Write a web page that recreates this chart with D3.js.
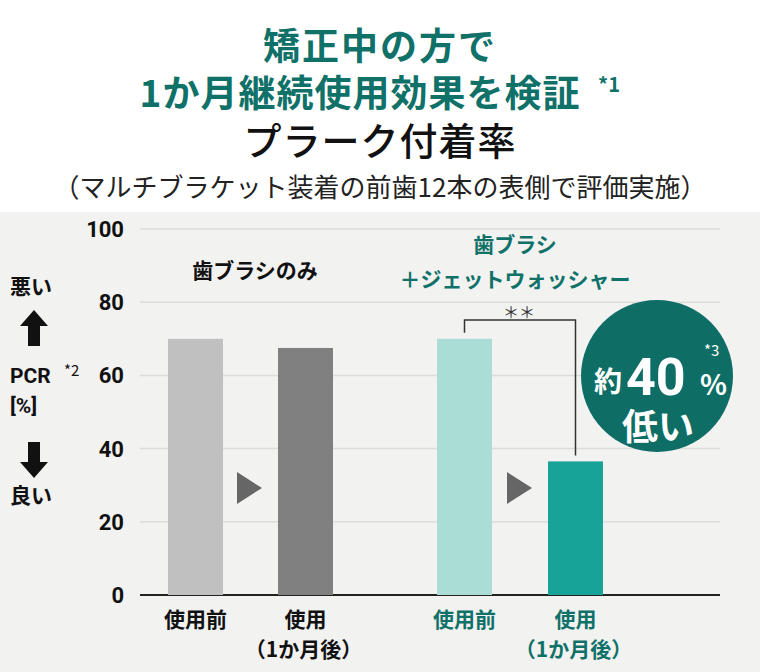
<!DOCTYPE html><html><head><meta charset="utf-8">
<script src="https://cdn.jsdelivr.net/npm/d3@7"></script>
<style>body{margin:0}svg{font-family:"Noto Sans CJK JP","Noto Sans",sans-serif}</style></head><body>
<svg id="c" width="760" height="672"></svg>
<script>
const categories=["使用前","使用\n（1か月後）","使用前","使用\n（1か月後）"];
const values=[70,67.5,70,36.5];
const colors=["#c0c0c0","#808080","#a9ddd6","#17a398"];
const ticks=[0,20,40,60,80,100];
const svg=d3.select("#c");
svg.append("rect").attr("x",0).attr("y",212).attr("width",760).attr("height",460).attr("fill","#f2f2f1");
const G="#0f7168";
const t=[[60,"矯正中の方で",G,37,700,2],[107,"1か月継続使用効果を検証",G,37,700,1],[155,"プラーク付着率","#111",38,500,1],[197,"（マルチブラケット装着の前歯12本の表側で評価実施）","#222",26,400,0]];
t.forEach(d=>svg.append("text").attr("x",d[1].startsWith("1")?360:380).attr("y",d[0]).attr("text-anchor","middle").attr("fill",d[2]).attr("font-size",d[3]).attr("font-weight",d[4]).attr("letter-spacing",d[5]).text(d[1]));
svg.append("text").attr("x",598).attr("y",92).attr("fill",G).attr("font-size",20).attr("font-weight",700).text("*1");
const y=d3.scaleLinear().domain([0,100]).range([595,229]);
const xs=[168,278,437,548],bw=55;
ticks.forEach(v=>{if(v>0)svg.append("line").attr("x1",140).attr("x2",720).attr("y1",y(v)).attr("y2",y(v)).attr("stroke","#dcdcdc").attr("stroke-width",1.5);
svg.append("text").attr("x",124).attr("y",y(v)+8).attr("text-anchor","end").attr("font-size",22).attr("font-weight",700).attr("font-family","Roboto,sans-serif").attr("fill","#111").text(v);});
svg.append("line").attr("x1",140).attr("x2",720).attr("y1",y(0)).attr("y2",y(0)).attr("stroke","#222").attr("stroke-width",2);
values.forEach((v,i)=>svg.append("rect").attr("x",xs[i]).attr("y",y(v)).attr("width",bw).attr("height",y(0)-y(v)).attr("fill",colors[i]));
[[237,488],[507,488]].forEach(p=>svg.append("path").attr("d",`M${p[0]},${p[1]-16}L${p[0]+25},${p[1]}L${p[0]},${p[1]+16}Z`).attr("fill","#666"));
categories.forEach((c,i)=>{const col=i<2?"#111":G;c.split("\n").forEach((s,j)=>svg.append("text").attr("x",xs[i]+bw/2+(j?-2:0)).attr("y",627+j*30).attr("text-anchor","middle").attr("font-size",21).attr("font-weight",700).attr("fill",col).text(s));});
svg.append("text").attr("x",255).attr("y",278).attr("text-anchor","middle").attr("font-size",21).attr("font-weight",700).attr("fill","#111").text("歯ブラシのみ");
svg.append("text").attr("x",515).attr("y",252).attr("text-anchor","middle").attr("font-size",21).attr("font-weight",700).attr("fill",G).text("歯ブラシ");
svg.append("text").attr("x",515).attr("y",287).attr("text-anchor","middle").attr("font-size",21).attr("font-weight",700).attr("fill",G).text("＋ジェットウォッシャー");
svg.append("path").attr("d",`M${xs[2]+bw/2},${y(70)-6}V320H${xs[3]+bw/2}V${y(36.5)-6}`).attr("fill","none").attr("stroke","#333").attr("stroke-width",1.5);
svg.append("text").attr("x",519).attr("y",318).attr("text-anchor","middle").attr("font-size",16).attr("fill","#333").text("＊＊");
const L=[[10,294,"悪い",21],[10,383,"PCR",21],[10,413,"[%]",21],[10,503,"良い",21]];
L.forEach(d=>svg.append("text").attr("x",d[0]).attr("y",d[1]).attr("font-size",d[3]).attr("font-weight",700).attr("fill","#111").attr("font-family",d[2].startsWith("P")||d[2].startsWith("[")?"Roboto,sans-serif":null).text(d[2]));
svg.append("text").attr("x",64).attr("y",376).attr("font-size",15).attr("fill","#111").text("*2");
svg.append("path").attr("d","M34,310L48,326H40V346H28V326H20Z").attr("fill","#111");
svg.append("path").attr("d","M34,478L48,462H40V442H28V462H20Z").attr("fill","#111");
svg.append("circle").attr("cx",657).attr("cy",376).attr("r",76).attr("fill","#0e6e66");
svg.append("text").attr("x",594).attr("y",392).attr("font-size",28).attr("font-weight",700).attr("fill","#fff").text("約");
svg.append("text").attr("x",626).attr("y",395).attr("font-size",52).attr("font-weight",700).attr("font-family","Roboto,sans-serif").attr("fill","#fff").text("40");
svg.append("text").attr("x",700).attr("y",395).attr("font-size",28).attr("font-weight",700).attr("fill","#fff").text("%");
svg.append("text").attr("x",704).attr("y",356).attr("font-size",15).attr("fill","#fff").text("*3");
svg.append("text").attr("x",658).attr("y",440).attr("text-anchor","middle").attr("font-size",36).attr("font-weight",700).attr("fill","#fff").text("低い");
</script></body></html>
